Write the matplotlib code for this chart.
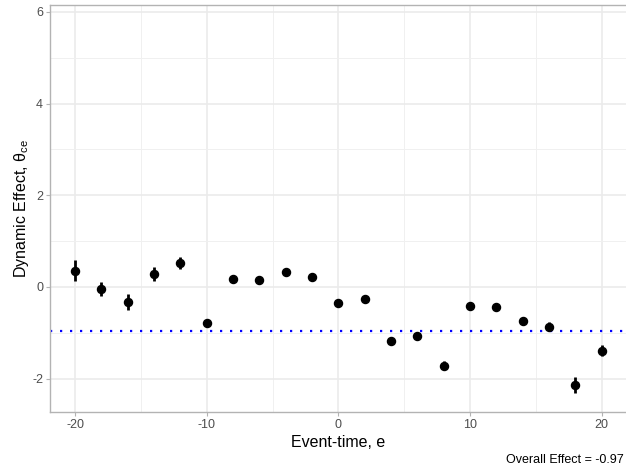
import matplotlib.pyplot as plt
import numpy as np

plt.rcParams["font.family"] = ["Liberation Sans", "DejaVu Sans"]
plt.rcParams["axes.unicode_minus"] = False
plt.rcParams["mathtext.fontset"] = "custom"
plt.rcParams["mathtext.rm"] = "Liberation Sans"
plt.rcParams["mathtext.it"] = "Liberation Sans"

event_time = np.arange(-20, 21, 2)
effect = [0.35, -0.04, -0.33, 0.28, 0.52, -0.79, 0.17, 0.16, 0.32, 0.21,
          -0.36, -0.27, -1.19, -1.07, -1.72, -0.42, -0.43, -0.74, -0.87, -2.14, -1.39]
err = [0.23, 0.15, 0.17, 0.15, 0.13, 0.07, 0.06, 0.06, 0.08, 0.06,
       0.07, 0.05, 0.07, 0.07, 0.10, 0.08, 0.08, 0.08, 0.10, 0.18, 0.12]
overall = -0.97

fig = plt.figure(figsize=(6.26, 4.70), dpi=100)
ax = fig.add_axes([50 / 626, 58 / 470, 576 / 626, 407 / 470])

ax.errorbar(event_time, effect, yerr=err, fmt="o", color="black",
            markersize=5.8, elinewidth=2.0, capsize=0, zorder=3)
ax.axhline(overall, color="blue", linestyle=(0, (1, 3.5)), linewidth=1.6, zorder=2)

ax.set_xlim(-21.9, 21.85)
ax.set_ylim(-2.73, 6.15)
ax.set_xticks([-20, -10, 0, 10, 20])
ax.set_yticks([-2, 0, 2, 4, 6])
ax.set_xticks([-15, -5, 5, 15], minor=True)
ax.set_yticks([-1, 1, 3, 5], minor=True)
ax.grid(True, which="major", color="#ebebeb", linewidth=1.2, zorder=0)
ax.grid(True, which="minor", color="#f0f0f0", linewidth=0.7, zorder=0)
ax.set_axisbelow(True)

for s in ["left", "bottom", "top"]:
    ax.spines[s].set_color("#b3b3b3")
    ax.spines[s].set_linewidth(1.0)
ax.spines["right"].set_visible(False)
ax.tick_params(which="major", length=3, color="#b3b3b3", labelsize=9,
               labelcolor="#4d4d4d", pad=2)
ax.tick_params(which="minor", length=0)

ax.set_xlabel("Event-time, e", fontsize=11.5, labelpad=3)
ax.set_ylabel(r"Dynamic Effect, $\mathregular{\theta_{ce}}$", fontsize=11.5, labelpad=1)

fig.text(624 / 626, 1 - 463 / 470, "Overall Effect = " + str(overall),
         fontsize=9, ha="right", va="baseline")

fig.savefig("out.png", dpi=100)
